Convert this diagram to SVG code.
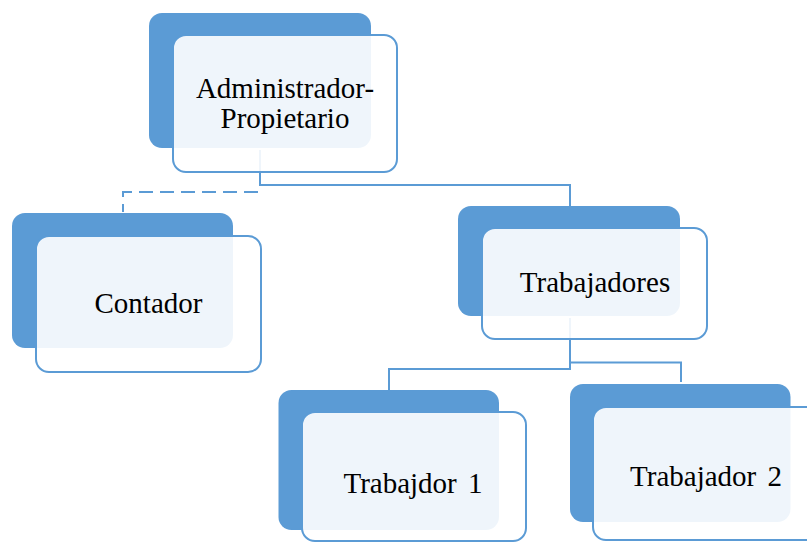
<svg xmlns="http://www.w3.org/2000/svg" width="807" height="542" viewBox="0 0 807 542">
<style>
.back{fill:#5B9BD5;}
.front{fill:#FFFFFF;fill-opacity:0.9;stroke:#5B9BD5;stroke-width:2;}
.lbl{font-family:"Liberation Serif","Times New Roman",serif;font-size:29px;fill:#000;text-anchor:middle;}
.con{fill:none;stroke:#5B9BD5;stroke-width:2;}
.dash{stroke-dasharray:14,7;}
</style>
<rect width="807" height="542" fill="#FFFFFF"/>
<g id="connectors">
<path class="con" d="M260,150 V185 H570 V207"/>
<path class="con dash" d="M258,192 H123 V212"/>
<path class="con" d="M570,318 V362.5 H681 V382"/>
<path class="con" d="M570,362 V369 H389 V390"/>
</g>
<g id="admin">
<rect class="back" x="149" y="13" width="222" height="135" rx="13"/>
<rect class="front" x="173" y="35" width="224" height="137" rx="13"/>
<text class="lbl" x="285" y="98">Administrador-</text>
<text class="lbl" x="285" y="128">Propietario</text>
</g>
<g id="contador">
<rect class="back" x="12" y="213" width="221" height="135" rx="13"/>
<rect class="front" x="36" y="236" width="225" height="136" rx="13"/>
<text class="lbl" x="148.5" y="313">Contador</text>
</g>
<g id="trabajadores">
<rect class="back" x="458" y="206" width="222" height="110" rx="13"/>
<rect class="front" x="482" y="228" width="225" height="111" rx="13"/>
<text class="lbl" x="595" y="292">Trabajadores</text>
</g>
<g id="trabajdor1">
<rect class="back" x="278.5" y="390" width="220.5" height="140" rx="13"/>
<rect class="front" x="302" y="412" width="224" height="129" rx="13"/>
<text class="lbl" x="413" y="493" word-spacing="4">Trabajdor 1</text>
</g>
<g id="trabajador2">
<rect class="back" x="570" y="384" width="220.5" height="138" rx="13"/>
<rect class="front" x="593" y="407" width="226" height="133" rx="13"/>
<text class="lbl" x="706" y="486" word-spacing="4">Trabajador 2</text>
</g>
</svg>
